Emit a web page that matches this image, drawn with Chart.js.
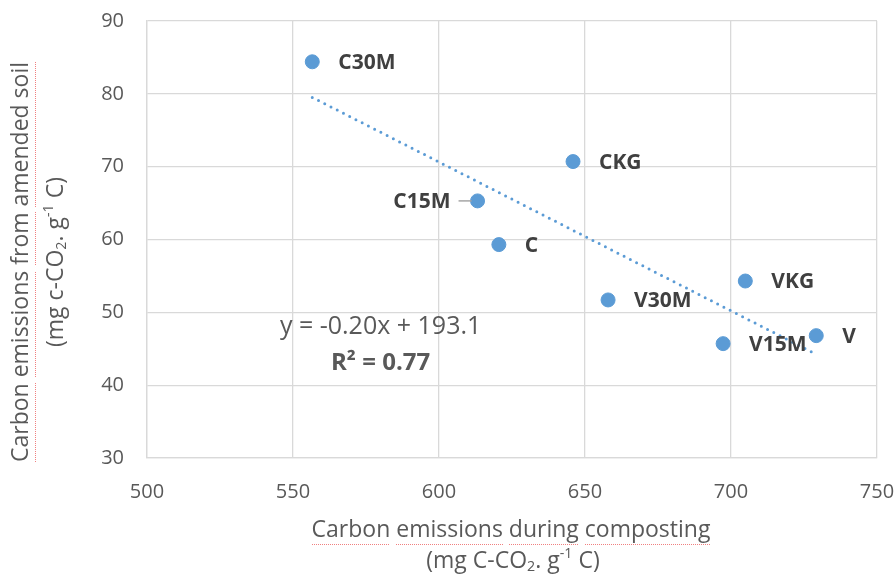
<!DOCTYPE html>
<html>
<head>
<meta charset="utf-8">
<script src="https://cdn.jsdelivr.net/npm/chart.js@4.4.1/dist/chart.umd.min.js"></script>
<style>
  html, body { margin: 0; padding: 0; background: #fff; }
</style>
</head>
<body>
<canvas id="scatter-chart" width="895" height="576"></canvas>
<script>
(() => {
    // data
    const sampleNames = ['C30M', 'CKG', 'C15M', 'C', 'V30M', 'VKG', 'V15M', 'V'];
    const compostEmissions = [556.6, 645.9, 613.2, 620.5, 657.9, 704.9, 697.3, 729.2];
    const soilEmissions = [84.4, 70.7, 65.3, 59.3, 51.7, 54.3, 45.7, 46.8];
    const xTicks = [500, 550, 600, 650, 700, 750];
    const yTicks = [30, 40, 50, 60, 70, 80, 90];
    const trendText = 'y = -0.20x + 193.1';
    const r2Text = 'R² = 0.77';

    const blue = '#5B9BD5';
    const textGrey = '#595959';
    const labelGrey = '#404040';
    const gridGrey = '#d9d9d9';
    const fontFamily = "'Open Sans', 'DejaVu Sans', sans-serif";

    // least squares fit for the dotted trendline
    const n = compostEmissions.length;
    const mx = compostEmissions.reduce((a, b) => a + b, 0) / n;
    const my = soilEmissions.reduce((a, b) => a + b, 0) / n;
    let sxx = 0, sxy = 0;
    for (let i = 0; i < n; i++) {
        sxx += (compostEmissions[i] - mx) ** 2;
        sxy += (compostEmissions[i] - mx) * (soilEmissions[i] - my);
    }
    const slope = sxy / sxx;
    const intercept = my - slope * mx;
    const xMin = Math.min(...compostEmissions);
    const xMax = Math.max(...compostEmissions);
    const trendPoints = [xMin, xMax].map(x => ({ x: x, y: slope * x + intercept }));

    // labels on the left of the point get a short leader line
    const leftLabels = ['C15M'];

    const drawRich = (ctx, parts, x, y, size) => {
        let total = 0;
        parts.forEach(p => {
            ctx.font = (p.sub || p.sup ? size * 0.62 : size) + 'px ' + fontFamily;
            p.w = ctx.measureText(p.t).width;
            total += p.w;
        });
        let cx = x - total / 2;
        ctx.textAlign = 'left';
        ctx.textBaseline = 'middle';
        parts.forEach(p => {
            ctx.font = (p.sub || p.sup ? size * 0.62 : size) + 'px ' + fontFamily;
            let dy = 0;
            if (p.sub) dy = size * 0.28;
            if (p.sup) dy = -size * 0.32;
            ctx.fillText(p.t, cx, y + dy);
            cx += p.w;
        });
    };

    const squiggle = (ctx, x1, x2, y) => {
        ctx.save();
        ctx.strokeStyle = '#f08080';
        ctx.lineWidth = 1;
        ctx.setLineDash([1, 1]);
        ctx.beginPath();
        ctx.moveTo(Math.round(x1), y);
        ctx.lineTo(Math.round(x2), y);
        ctx.stroke();
        ctx.restore();
    };

    const underlineWords = (ctx, text, words, x, y, size) => {
        ctx.font = size + 'px ' + fontFamily;
        const full = ctx.measureText(text).width;
        const start = x - full / 2;
        words.forEach(w => {
            const idx = text.indexOf(w);
            const a = start + ctx.measureText(text.slice(0, idx)).width;
            const b = a + ctx.measureText(w).width;
            squiggle(ctx, a, b, Math.round(y + size * 0.6) + 0.5);
        });
    };

    const annotations = {
        id: 'annotations',
        afterDatasetsDraw(chart) {
            const ctx = chart.ctx;
            const xs = chart.scales.x;
            const ys = chart.scales.y;
            ctx.save();
            ctx.font = 'bold 21px ' + fontFamily;
            ctx.fillStyle = labelGrey;
            ctx.textBaseline = 'middle';
            sampleNames.forEach((name, i) => {
                const px = xs.getPixelForValue(compostEmissions[i]);
                const py = ys.getPixelForValue(soilEmissions[i]) + 1;
                if (leftLabels.includes(name)) {
                    ctx.strokeStyle = '#a6a6a6';
                    ctx.lineWidth = 1.5;
                    ctx.beginPath();
                    ctx.moveTo(px - 19, py - 1);
                    ctx.lineTo(px - 6, py - 1);
                    ctx.stroke();
                    ctx.textAlign = 'right';
                    ctx.fillText(name, px - 27, py);
                } else {
                    ctx.textAlign = 'left';
                    ctx.fillText(name, px + 26, py);
                }
            });

            // trendline equation
            const ex = xs.getPixelForValue(580);
            const ey = ys.getPixelForValue(48);
            ctx.textAlign = 'center';
            ctx.fillStyle = textGrey;
            ctx.font = '25px ' + fontFamily;
            ctx.fillText(trendText, ex, ey);
            ctx.font = 'bold 24px ' + fontFamily;
            ctx.fillText(r2Text, ex, ey + 36);
            ctx.restore();
        },
        afterDraw(chart) {
            const ctx = chart.ctx;
            const area = chart.chartArea;
            ctx.save();
            ctx.fillStyle = textGrey;
            const size = 23;

            // x axis title
            const xc = (area.left + area.right) / 2 - 1;
            const line1 = 'Carbon emissions during composting';
            ctx.font = size + 'px ' + fontFamily;
            ctx.textAlign = 'center';
            ctx.textBaseline = 'middle';
            ctx.fillText(line1, xc, 530);
            underlineWords(ctx, line1, ['Carbon', 'emissions', 'during', 'composting'], xc, 530, size);
            drawRich(ctx, [{ t: '(mg C-CO' }, { t: '2', sub: true }, { t: '. g' }, { t: '-1', sup: true }, { t: ' C)' }], xc + 2, 561, size);

            // y axis title
            const yc = 262;
            ctx.translate(0, yc);
            ctx.rotate(-Math.PI / 2);
            const yline1 = 'Carbon emissions from amended soil';
            ctx.font = size + 'px ' + fontFamily;
            ctx.textAlign = 'center';
            ctx.fillText(yline1, 0, 21);
            underlineWords(ctx, yline1, ['Carbon', 'emissions', 'from', 'amended soil'], 0, 21, size);
            drawRich(ctx, [{ t: '(mg c-CO' }, { t: '2', sub: true }, { t: '. g' }, { t: '-1', sup: true }, { t: ' C)' }], 0, 56, size);
            ctx.restore();
        }
    };

    const ctx = document.getElementById('scatter-chart').getContext('2d');

    const config = {
        type: 'scatter',
        data: {
            datasets: [{
                label: 'Samples',
                data: compostEmissions.map((x, i) => ({ x: x, y: soilEmissions[i] })),
                backgroundColor: blue,
                borderColor: blue,
                pointRadius: 7,
                pointHoverRadius: 7,
                order: 1
            }, {
                type: 'line',
                label: 'Linear trend',
                data: trendPoints,
                borderColor: blue,
                borderWidth: 3,
                borderDash: [0, 7],
                borderCapStyle: 'round',
                pointRadius: 0,
                fill: false,
                order: 0
            }]
        },
        options: {
            responsive: false,
            animation: false,
            layout: { padding: { left: 0, right: 18, top: 21, bottom: 0 } },
            plugins: {
                legend: { display: false },
                tooltip: { enabled: false }
            },
            scales: {
                x: {
                    type: 'linear',
                    min: xTicks[0],
                    max: xTicks[xTicks.length - 1],
                    afterBuildTicks: s => { s.ticks = xTicks.map(v => ({ value: v })); },
                    afterFit: s => { s.height = 118; s.paddingLeft = 0; s.paddingRight = 0; },
                    grid: { color: gridGrey, lineWidth: 1.3, drawTicks: false },
                    border: { color: gridGrey, width: 1.3 },
                    ticks: {
                        padding: 22,
                        color: textGrey,
                        font: { family: fontFamily, size: 20 }
                    }
                },
                y: {
                    type: 'linear',
                    min: yTicks[0],
                    max: yTicks[yTicks.length - 1],
                    afterBuildTicks: s => { s.ticks = yTicks.map(v => ({ value: v })); },
                    afterFit: s => { s.width = 147; s.paddingTop = 0; s.paddingBottom = 0; },
                    grid: { color: gridGrey, lineWidth: 1.3, drawTicks: false },
                    border: { color: gridGrey, width: 1.3 },
                    ticks: {
                        padding: 23,
                        color: textGrey,
                        font: { family: fontFamily, size: 20 }
                    }
                }
            }
        },
        plugins: [annotations]
    };

    const scatterChart = new Chart(ctx, config);
})();
</script>
</body>
</html>
